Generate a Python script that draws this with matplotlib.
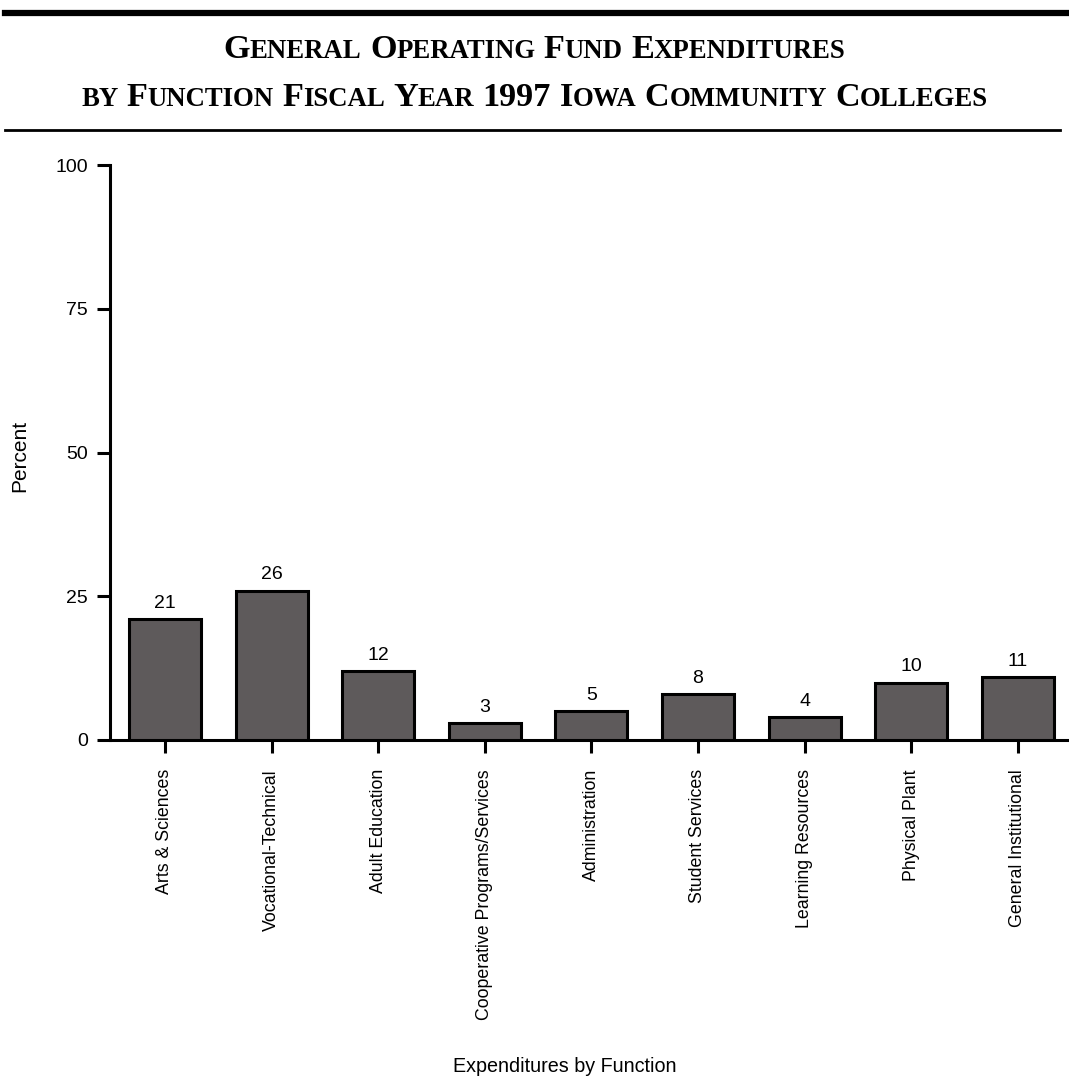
import matplotlib
matplotlib.use("Agg")
import matplotlib.pyplot as plt
from matplotlib.offsetbox import TextArea, HPacker, AnnotationBbox
from matplotlib.lines import Line2D

# Data
categories = [
    "Arts & Sciences",
    "Vocational-Technical",
    "Adult Education",
    "Cooperative Programs/Services",
    "Administration",
    "Student Services",
    "Learning Resources",
    "Physical Plant",
    "General Institutional",
]
percent = [21, 26, 12, 3, 5, 8, 4, 10, 11]
y_ticks = [0, 25, 50, 75, 100]

title_line1 = "General Operating Fund Expenditures"
title_line2 = "by Function Fiscal Year 1997 Iowa Community Colleges"
x_label = "Expenditures by Function"
y_label = "Percent"

SANS = ["Liberation Sans", "DejaVu Sans"]
SERIF = ["Liberation Serif", "DejaVu Serif"]
BAR_COLOR = "#5e5a5b"

fig = plt.figure(figsize=(10.69, 10.80), dpi=100)
W, H = 1069, 1080

ax = fig.add_axes([110 / W, 1 - 740 / H, 959 / W, 575 / H])
x = list(range(len(categories)))
ax.bar(x, percent, width=0.675, color=BAR_COLOR, edgecolor="black",
       linewidth=2.2, zorder=3)

for xi, v in zip(x, percent):
    ax.annotate(f"{v}", (xi, v), xytext=(0, 8.0), textcoords="offset points",
                ha="center", va="baseline", fontsize=14, family=SANS)

ax.set_xlim(-0.515, 8.48)
ax.set_ylim(0, 100)
ax.set_yticks(y_ticks)
ax.set_yticklabels([str(t) for t in y_ticks], family=SANS, fontsize=14)
ax.set_xticks(x)
ax.set_xticklabels(categories, rotation=90, family=SANS, fontsize=12.8,
                   va="top", ha="center")
ax.tick_params(axis="y", direction="out", length=9.4, width=2.2, pad=6.5)
ax.tick_params(axis="x", direction="out", length=9.4, width=2.2, pad=11.5)

for side in ("top", "right"):
    ax.spines[side].set_visible(False)
for side in ("left", "bottom"):
    ax.spines[side].set_linewidth(2.2)
ax.spines["left"].set_capstyle("projecting")
ax.spines["bottom"].set_capstyle("butt")

fig.text(20 / W, 1 - 456 / H, y_label, rotation=90, ha="center", va="center",
         family=SANS, fontsize=15)
fig.text(565 / W, 1 - 1066 / H, x_label, ha="center", va="center",
         family=SANS, fontsize=14.2)


def small_caps(text, big=24.7, small=19.3):
    """Build a small-caps line as packed text pieces."""
    words = []
    for word in text.split(" "):
        parts = []
        buf, cur_big = "", None
        for ch in word:
            is_big = ch.isupper() or ch.isdigit()
            if cur_big is None or is_big == cur_big:
                buf += ch
            else:
                parts.append((buf, cur_big))
                buf = ch
            cur_big = is_big
        parts.append((buf, cur_big))
        children = [
            TextArea(s.upper(), textprops=dict(
                family=SERIF, weight="bold",
                fontsize=big if b else small))
            for s, b in parts
        ]
        words.append(HPacker(children=children, align="baseline", pad=0, sep=0))
    return HPacker(children=words, align="baseline", pad=0, sep=6)


for line, yc in ((title_line1, 50), (title_line2, 98)):
    ab = AnnotationBbox(small_caps(line), (0.5, 1 - yc / H),
                        xycoords="figure fraction", frameon=False,
                        box_alignment=(0.5, 0.5), pad=0)
    fig.add_artist(ab)

# Horizontal rules above and below the title
fig.add_artist(Line2D([5 / W, 1.0], [1 - 13 / H, 1 - 13 / H],
                      transform=fig.transFigure, color="black", linewidth=4.5))
fig.add_artist(Line2D([5 / W, 1060 / W], [1 - 130 / H, 1 - 130 / H],
                      transform=fig.transFigure, color="black", linewidth=2))

fig.savefig("out.png", dpi=100)
